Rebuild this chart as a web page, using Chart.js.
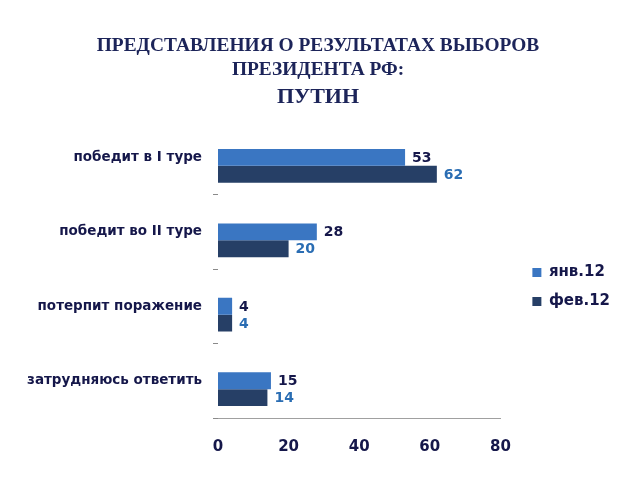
<!DOCTYPE html>
<html>
<head>
<meta charset="utf-8">
<script src="https://cdn.jsdelivr.net/npm/chart.js@4"></script>
<style>
html,body{margin:0;padding:0;background:#fff;}
#wrap{width:640px;height:480px;}
</style>
</head>
<body>
<div id="wrap"><canvas id="c" width="640" height="480"></canvas></div>
<script>
const categories = ["победит в I туре", "победит во II туре", "потерпит поражение", "затрудняюсь ответить"];
const seriesNames = ["янв.12", "фев.12"];
const janValues = [53, 28, 4, 15];
const febValues = [62, 20, 4, 14];
const xTicks = [0, 20, 40, 60, 80];

const janColor = "#3a76c2";
const febColor = "#263f66";
const janLabelColor = "#15174a";
const febLabelColor = "#2a6db3";
const FONT = "'DejaVu Sans', Verdana, sans-serif";

const valueLabels = {
  id: "valueLabels",
  afterDatasetsDraw(chart) {
    const ctx = chart.ctx;
    ctx.save();
    ctx.font = "bold 14px " + FONT;
    ctx.textBaseline = "middle";
    ctx.textAlign = "left";
    chart.data.datasets.forEach((ds, di) => {
      if (ds.hiddenHelper) return;
      const meta = chart.getDatasetMeta(di);
      meta.data.forEach((bar, i) => {
        const v = ds.data[i];
        if (v == null) return;
        ctx.fillStyle = ds.labelColor;
        ctx.fillText(String(v), bar.x + 7, bar.y + 1);
      });
    });
    ctx.restore();
  }
};

const layoutShift = {
  id: "layoutShift",
  afterLayout(chart) {
    const lg = chart.legend;
    if (lg) {
      lg.left += 18; lg.right += 18;
      lg.top += 45; lg.bottom += 45;
    }
    chart.boxes.forEach((b) => {
      if (b.position === "top" && !b.axis) { b.left += 7; b.right += 7; }
    });
  }
};

new Chart(document.getElementById("c"), {
  type: "bar",
  data: {
    labels: categories,
    datasets: [
      { label: "", data: [], hiddenHelper: true, backgroundColor: "rgba(0,0,0,0)" },
      { label: seriesNames[0], data: janValues, backgroundColor: janColor, labelColor: janLabelColor },
      { label: seriesNames[1], data: febValues, backgroundColor: febColor, labelColor: febLabelColor }
    ]
  },
  options: {
    indexAxis: "y",
    responsive: false,
    animation: false,
    devicePixelRatio: 1,
    datasets: { bar: { categoryPercentage: 0.68, barPercentage: 1.0 } },
    layout: { padding: { left: 20, right: 38, top: 8, bottom: 4 } },
    scales: {
      x: {
        min: 0, max: 80,
        afterBuildTicks(scale) { scale.ticks = xTicks.map(v => ({ value: v })); },
        grid: { display: false, drawTicks: false },
        border: { display: true, color: "#a0a0a0", width: 1 },
        ticks: {
          padding: 20,
          color: "#15174a",
          font: { family: FONT, size: 15, weight: "bold" }
        }
      },
      y: {
        afterFit(scale) { scale.width = 198; },
        grid: {
          drawOnChartArea: false,
          drawTicks: true,
          tickLength: 5,
          offset: true,
          color: (ctx) => (ctx.index === 0 ? "rgba(0,0,0,0)" : "#8a8a8a")
        },
        border: { display: false },
        ticks: {
          padding: 11,
          color: "#15174a",
          font: { family: FONT, size: 13.5, weight: "bold" }
        }
      }
    },
    plugins: {
      legend: {
        position: "right",
        align: "center",
        labels: {
          filter: (item) => item.text !== "",
          boxWidth: 9,
          boxHeight: 9,
          padding: 14,
          color: "#15174a",
          font: { family: FONT, size: 15, weight: "bold" }
        }
      },
      title: {
        display: true,
        text: ["ПРЕДСТАВЛЕНИЯ О РЕЗУЛЬТАТАХ ВЫБОРОВ", "ПРЕЗИДЕНТА РФ:"],
        color: "#1c2459",
        font: { family: "'Liberation Serif', 'Times New Roman', serif", size: 19.4, weight: "bold", lineHeight: 1.23 },
        padding: { top: 26, bottom: 2 }
      },
      subtitle: {
        display: true,
        text: "ПУТИН",
        color: "#1c2459",
        font: { family: "'Liberation Serif', 'Times New Roman', serif", size: 22, weight: "bold" },
        padding: { top: 0, bottom: 10 }
      },
      tooltip: { enabled: false }
    }
  },
  plugins: [valueLabels, layoutShift]
});
</script>
</body>
</html>
